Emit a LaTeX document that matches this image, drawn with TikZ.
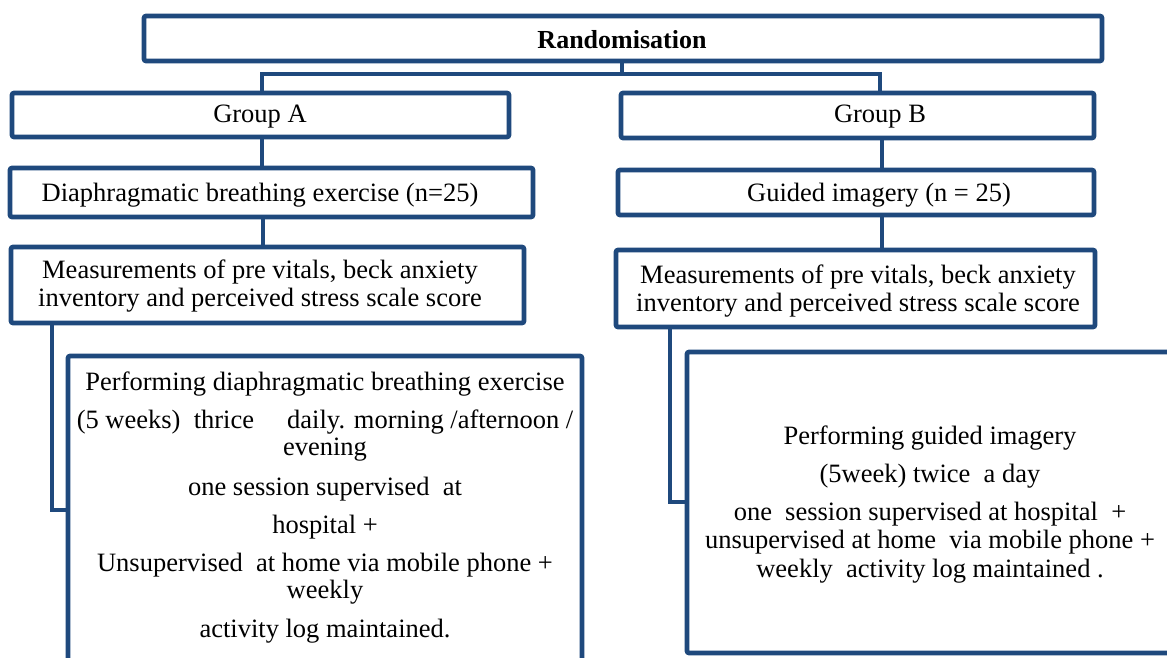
\documentclass[tikz,border=0pt]{standalone}
\usepackage{fontspec}
\setmainfont{Liberation Serif}
\definecolor{navy}{RGB}{31,73,125}
\begin{document}
\begin{tikzpicture}[x=1pt,y=-1pt,
  bx/.style={draw=navy, line width=4.6pt, fill=white, rounded corners=2pt, inner sep=0pt, outer sep=0pt},
  txt/.style={inner sep=0pt, align=center, font=\fontsize{26.5}{27}\selectfont},
  link/.style={draw=navy, line width=4.6pt, line cap=rect}]
\useasboundingbox (0,0) rectangle (1167,658);
\clip (0,0) rectangle (1167,658);
\fill[white] (0,0) rectangle (1167,658);
% boxes
\node[bx, minimum width=958pt, minimum height=45pt] (rand) at (623,38.5) {};
\node[bx, minimum width=497pt, minimum height=44pt] (grpA) at (260.5,115) {};
\node[bx, minimum width=473pt, minimum height=45pt] (grpB) at (857.5,115.5) {};
\node[bx, minimum width=523pt, minimum height=49pt] (diaph) at (271.5,192.5) {};
\node[bx, minimum width=476pt, minimum height=45pt] (guided) at (856,192.5) {};
\node[bx, minimum width=513pt, minimum height=76pt] (measA) at (267.5,285) {};
\node[bx, minimum width=479pt, minimum height=77pt] (measB) at (855.5,288.5) {};
\node[bx, minimum width=514pt, minimum height=400pt, anchor=north west] (perfA) at (68,356) {};
\node[bx, minimum width=560pt, minimum height=301pt, anchor=north west] (perfB) at (687,352) {};
% texts
\node[txt, font=\fontsize{26}{27}\selectfont\bfseries] (randtxt) at (622,39.5) {Randomisation};
\node[txt] (grpAtxt) at (260,117) {Group A};
\node[txt] (grpBtxt) at (880,117) {Group B};
\node[txt] (diaphtxt) at (260,195) {Diaphragmatic breathing exercise (n=25)};
\node[txt] (guidedtxt) at (879,195) {Guided imagery (n = 25)};
\node[txt, font=\fontsize{26.5}{28}\selectfont] (measAtxt) at (260,286) {Measurements of pre vitals, beck anxiety\\inventory and perceived stress scale score};
\node[txt, font=\fontsize{26.5}{28}\selectfont] (measBtxt) at (858,291) {Measurements of pre vitals, beck anxiety\\inventory and perceived stress scale score};
\node[txt] (perfAtxt) at (325,508) {Performing diaphragmatic breathing exercise\\[11pt]
(5 weeks)~ thrice \quad daily. morning /afternoon /\\
evening\\[13pt]
one session supervised~ at\\[11pt]
hospital +\\[11pt]
Unsupervised~ at home via mobile phone +\\
weekly\\[12pt]
activity log maintained.};
\node[txt, font=\fontsize{26.5}{28}\selectfont] (perfBtxt) at (930,505) {Performing guided imagery\\[10pt]
(5week) twice~ a day\\[10pt]
one~ session supervised at hospital~ +\\
unsupervised at home~ via mobile phone +\\[1pt]
weekly~ activity log maintained .};
% connectors
\coordinate (split) at (622,74);
\coordinate (a1) at (52,510);
\coordinate (b1) at (670,502);
\draw[link] (rand.south -| split) -- (split);
\draw[link, line cap=butt] (grpA.north -| 262,0) |- (split) -| (grpB.north -| 880,0);
\draw[link] (grpA.south -| 262,0) -- (diaph.north -| 262,0);
\draw[link] (diaph.south -| 263,0) -- (measA.north -| 263,0);
\draw[link] (grpB.south -| 882,0) -- (guided.north -| 882,0);
\draw[link] (guided.south -| 882,0) -- (measB.north -| 882,0);
\draw[link, line cap=butt] (measA.south -| a1) -- (a1) -- (a1 -| perfA.west);
\draw[link, line cap=butt] (measB.south -| b1) -- (b1) -- (b1 -| perfB.west);
\end{tikzpicture}
\end{document}
